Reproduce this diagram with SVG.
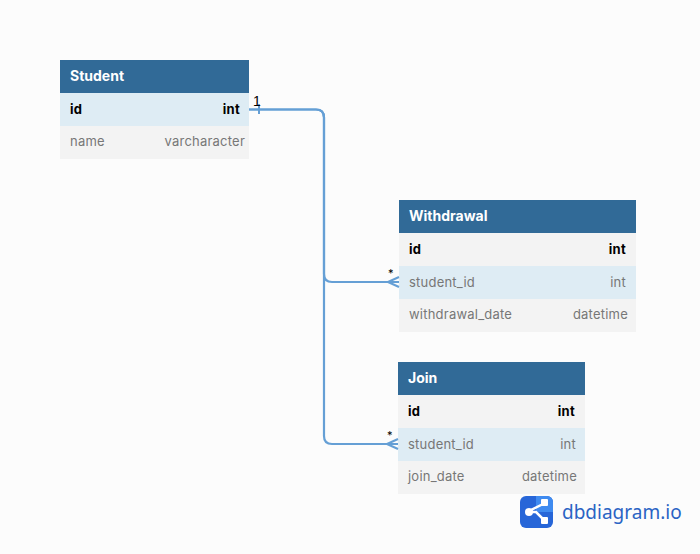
<svg xmlns="http://www.w3.org/2000/svg" width="700" height="554" viewBox="0 0 700 554">
<style>
text{font-family:"Inter","Liberation Sans",sans-serif;font-size:13px}
.h{fill:#316a97}.r{fill:#f3f3f3}.s{fill:#deecf4}
.t{fill:#fff;font-weight:700;font-size:14px}
.b{fill:#000;font-weight:700;letter-spacing:.3px}
.n{fill:#777;letter-spacing:.22px}
.e{text-anchor:end}
.c{fill:none;stroke:#659fd5;stroke-width:2.200}
.f{fill:none;stroke:#659fd5;stroke-width:2}
.m{fill:#000;font-size:11px}
</style>
<rect width="700" height="554" fill="#fcfcfc"/>
<g id="Student">
<rect class="h" x="60" y="60" width="189" height="33"/>
<rect class="s" x="60" y="93" width="189" height="33"/>
<rect class="r" x="60" y="126" width="189" height="33"/>
<text class="t" x="70" y="80.500">Student</text>
<text class="b" x="70" y="113.500">id</text><text class="b e" x="240" y="113.500">int</text>
<text class="n" x="70" y="146">name</text><text class="n e" x="245" y="146">varcharacter</text>
</g>
<g id="Withdrawal">
<rect class="h" x="399" y="200" width="237" height="33"/>
<rect class="r" x="399" y="233" width="237" height="33"/>
<rect class="s" x="399" y="266" width="237" height="33"/>
<rect class="r" x="399" y="299" width="237" height="33"/>
<text class="t" x="409" y="220.500">Withdrawal</text>
<text class="b" x="409" y="253.500">id</text><text class="b e" x="626" y="253.500">int</text>
<text class="n" x="409" y="286.500">student_id</text><text class="n e" x="626" y="286.500">int</text>
<text class="n" x="409" y="319">withdrawal_date</text><text class="n e" x="628" y="319">datetime</text>
</g>
<g id="Join">
<rect class="h" x="398" y="362" width="187" height="33"/>
<rect class="r" x="398" y="395" width="187" height="33"/>
<rect class="s" x="398" y="428" width="187" height="33"/>
<rect class="r" x="398" y="461" width="187" height="33"/>
<text class="t" x="408" y="382.500">Join</text>
<text class="b" x="408" y="415.500">id</text><text class="b e" x="575" y="415.500">int</text>
<text class="n" x="408" y="448.500">student_id</text><text class="n e" x="576" y="448.500">int</text>
<text class="n" x="408" y="481">join_date</text><text class="n e" x="577" y="481">datetime</text>
</g>
<g id="connectors">
<path class="c" d="M249 109.500H316Q324 109.500 324 117.500V274Q324 282 332 282H399"/>
<path class="c" d="M249 109.500H316Q324 109.500 324 117.500V436Q324 444 332 444H398"/>
<path class="f" d="M259 104V114"/>
<path class="f" d="M388 282L399 277M388 282L399 287"/>
<path class="f" d="M387 444L398 439M387 444L398 449"/>
<text class="m" x="253" y="106" style="font-size:14px;font-family:'Liberation Sans',sans-serif">1</text>
<text class="m" x="388" y="277">*</text>
<text class="m" x="387" y="439">*</text>
</g>
<g id="logo">
<rect x="520" y="496" width="33" height="32" rx="6" fill="#2766d8"/>
<path d="M536 496H547a6 6 0 0 1 6 6V512H536Z" fill="#3f8bf0"/>
<path d="M527 512L545 503M527 512H536L545 521" fill="none" stroke="#fff" stroke-width="2.500"/>
<circle cx="529" cy="512" r="4" fill="#fff"/>
<rect x="541" y="499" width="7" height="7" rx="1" fill="#fff"/>
<rect x="541" y="517" width="7" height="7" rx="1" fill="#fff"/>
<text x="562" y="519" style="font-size:19px;font-family:'Noto Sans','Liberation Sans',sans-serif" fill="#2a63c4">dbdiagram.io</text>
</g>
</svg>
